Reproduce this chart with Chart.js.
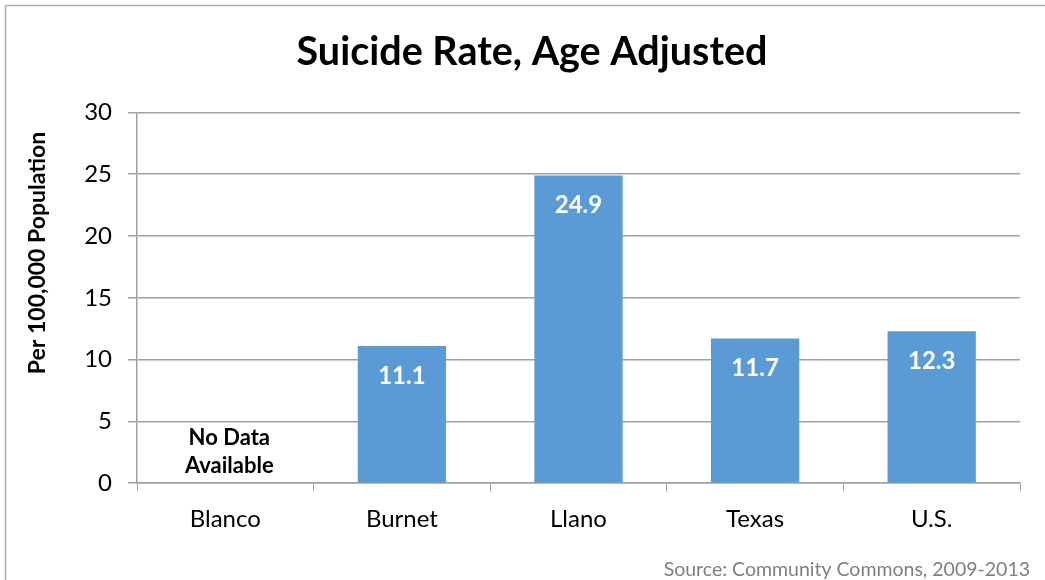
<!DOCTYPE html>
<html>
<head>
<meta charset="utf-8">
<script src="https://cdn.jsdelivr.net/npm/chart.js@4"></script>
<style>
  body { margin: 0; background: #fff; }
  #wrap { width: 1045px; height: 580px; position: relative; }
</style>
</head>
<body>
<div id="wrap"><canvas id="Suicide_Chart"></canvas></div>
<script>
// ข้อมูลอัตราการฆ่าตัวตาย (ต่อประชากร 100,000 คน)
const categories = ['Blanco', 'Burnet', 'Llano', 'Texas', 'U.S.'];
const rates = [null, 11.1, 24.9, 11.7, 12.3];
const yTicks = [0, 5, 10, 15, 20, 25, 30];

const FONT = 'Lato, "Open Sans", sans-serif';

// วาดกรอบ, ชื่อแกน y, ตัวเลขในแท่ง, ข้อความ No Data และแหล่งที่มา
const extras = {
    id: 'extras',
    beforeDraw(chart) {
        const c = chart.ctx;
        c.save();
        c.fillStyle = '#fff';
        c.fillRect(0, 0, chart.width, chart.height);
        c.strokeStyle = '#b0b0b0';
        c.lineWidth = 1.5;
        c.beginPath();
        c.moveTo(5.5, chart.height);
        c.lineTo(5.5, 5.5);
        c.lineTo(chart.width, 5.5);
        c.stroke();

        // ชื่อแกน y
        c.translate(38, 253);
        c.rotate(-Math.PI / 2);
        c.fillStyle = '#000';
        c.font = 'bold 23px ' + FONT;
        c.textAlign = 'center';
        c.textBaseline = 'middle';
        c.fillText('Per 100,000 Population', 0, 0);
        c.restore();
    },
    afterDatasetsDraw(chart) {
        const c = chart.ctx;
        const meta = chart.getDatasetMeta(0);
        const y = chart.scales.y;
        c.save();
        c.textAlign = 'center';
        c.textBaseline = 'middle';
        meta.data.forEach((bar, i) => {
            const v = rates[i];
            if (v === null) {
                c.fillStyle = '#000';
                c.font = 'bold 22px ' + FONT;
                c.fillText('No Data', bar.x + 4, y.getPixelForValue(0) - 45);
                c.fillText('Available', bar.x + 4, y.getPixelForValue(0) - 17);
                return;
            }
            c.fillStyle = '#fff';
            c.font = 'bold 24px ' + FONT;
            c.fillText(v.toFixed(1), bar.x, y.getPixelForValue(v) + 30);
        });
        c.fillStyle = '#7f7f7f';
        c.font = '19.5px ' + FONT;
        c.textAlign = 'right';
        c.fillText('Source: Community Commons, 2009-2013', 1030, 570);
        c.restore();
    }
};

const ctx = document.getElementById('Suicide_Chart').getContext('2d');
const SuicideChartInstance = new Chart(ctx, {
    type: 'bar',
    data: {
        labels: categories,
        datasets: [{
            label: 'Suicide Rate',
            data: rates,
            backgroundColor: '#5b9bd5',
            borderWidth: 0,
            categoryPercentage: 1.0,
            barPercentage: 0.5
        }]
    },
    options: {
        responsive: true,
        maintainAspectRatio: false,
        animation: false,
        layout: { padding: { left: 44, right: 25, top: 20, bottom: 32 } },
        plugins: {
            legend: { display: false },
            tooltip: { enabled: false },
            title: {
                display: true,
                text: 'Suicide Rate, Age Adjusted',
                color: '#000',
                font: { family: FONT, size: 39.5, weight: 'bold' },
                padding: { top: 9, bottom: 36 }
            }
        },
        scales: {
            x: {
                grid: {
                    display: true,
                    offset: true,
                    drawOnChartArea: false,
                    color: '#a0a0a0',
                    tickLength: 8
                },
                border: { color: '#a0a0a0', width: 1.5 },
                ticks: { color: '#000', font: { family: FONT, size: 24 }, padding: 14 }
            },
            y: {
                min: 0,
                max: 30,
                afterBuildTicks(scale) {
                    scale.ticks = yTicks.map(v => ({ value: v }));
                },
                afterFit(scale) {
                    scale.width = 93;
                },
                grid: { color: '#a0a0a0', lineWidth: 1.5, tickLength: 9 },
                border: { color: '#a0a0a0', width: 1.5 },
                ticks: { color: '#000', font: { family: FONT, size: 24 }, padding: 16 }
            }
        }
    },
    plugins: [extras]
});
</script>
</body>
</html>
